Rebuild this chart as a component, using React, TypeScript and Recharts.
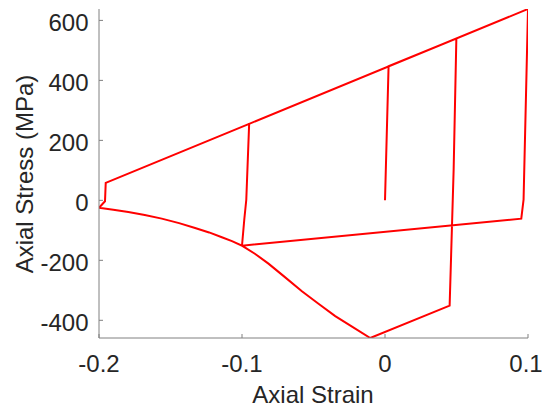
import React from 'react';
import { LineChart, Line, XAxis, YAxis, Label } from 'recharts';

// strain / stress path of the cyclic test, in drawing order
const strain = [
  0, 0.0025, 0.0499, 0.048, 0.0452, -0.0103, -0.0225, -0.0348, -0.0465, -0.0581,
  -0.07, -0.0815, -0.091, -0.1, -0.0984, -0.097, -0.095, 0.1, 0.0969, 0.0953,
  -0.1, -0.107, -0.1141, -0.123, -0.1328, -0.144, -0.1561, -0.168, -0.1795, -0.19,
  -0.2, -0.1958, -0.1953, -0.095,
];
const stress = [
  0, 447, 540, 102, -351, -459, -423, -386, -345, -303,
  -256, -211, -178, -151, -64, 2, 255, 638, 2, -61,
  -151, -136, -123, -107, -92, -76, -61, -49, -39, -31,
  -25, -3, 58, 255,
];

const xTicks = [-0.2, -0.1, 0, 0.1];
const yTicks = [-400, -200, 0, 200, 400, 600];

const FONT = '"Liberation Sans", Arial, Helvetica, sans-serif';
const AXIS_GRAY = '#808080';
const TEXT = '#262626';

// bottom tick labels; the last one is nudged left like the original so it stays in the figure
function StrainTick(props: any) {
  const { x, y, payload } = props;
  const shift = payload.value === 0.1 ? -2 : 0;
  return (
    <text x={x + shift} y={y} dy="0.71em" textAnchor="middle" fill={TEXT} fontSize={24} fontFamily={FONT}>
      {String(payload.value)}
    </text>
  );
}

export default function App() {
  const data = strain.map((x, i) => ({ strain: x, stress: stress[i] }));

  return (
    <div style={{ position: 'absolute', left: 0, top: 0, width: 542, height: 408, background: '#fff' }}>
      <LineChart
        width={542}
        height={408}
        data={data}
        margin={{ top: 9, right: 14, left: 0, bottom: 0 }}
        style={{ fontFamily: FONT }}
      >
        <XAxis
          type="number"
          dataKey="strain"
          domain={[-0.2, 0.1]}
          ticks={xTicks}
          allowDataOverflow
          height={70}
          tickSize={-4}
          tickMargin={21}
          stroke={AXIS_GRAY}
          tick={<StrainTick />}
        >
          <Label
            content={() => (
              <text x={313} y={403} textAnchor="middle" fill={TEXT} fontSize={24} fontFamily={FONT}>
                Axial Strain
              </text>
            )}
          />
        </XAxis>
        <YAxis
          type="number"
          dataKey="stress"
          domain={[-459, 638]}
          ticks={yTicks}
          allowDataOverflow
          width={99}
          tickSize={-4}
          tickMargin={14.5}
          stroke={AXIS_GRAY}
          tick={{ fill: TEXT, fontSize: 24, fontFamily: FONT, dy: 2 }}
        >
          <Label
            content={() => (
              <text
                x={32.5}
                y={174}
                transform="rotate(-90 32.5 174)"
                textAnchor="middle"
                fill={TEXT}
                fontSize={24}
                fontFamily={FONT}
              >
                Axial Stress (MPa)
              </text>
            )}
          />
        </YAxis>
        <Line
          type="linear"
          dataKey="stress"
          stroke="#ff0000"
          strokeWidth={2}
          dot={false}
          activeDot={false}
          isAnimationActive={false}
        />
      </LineChart>
    </div>
  );
}
